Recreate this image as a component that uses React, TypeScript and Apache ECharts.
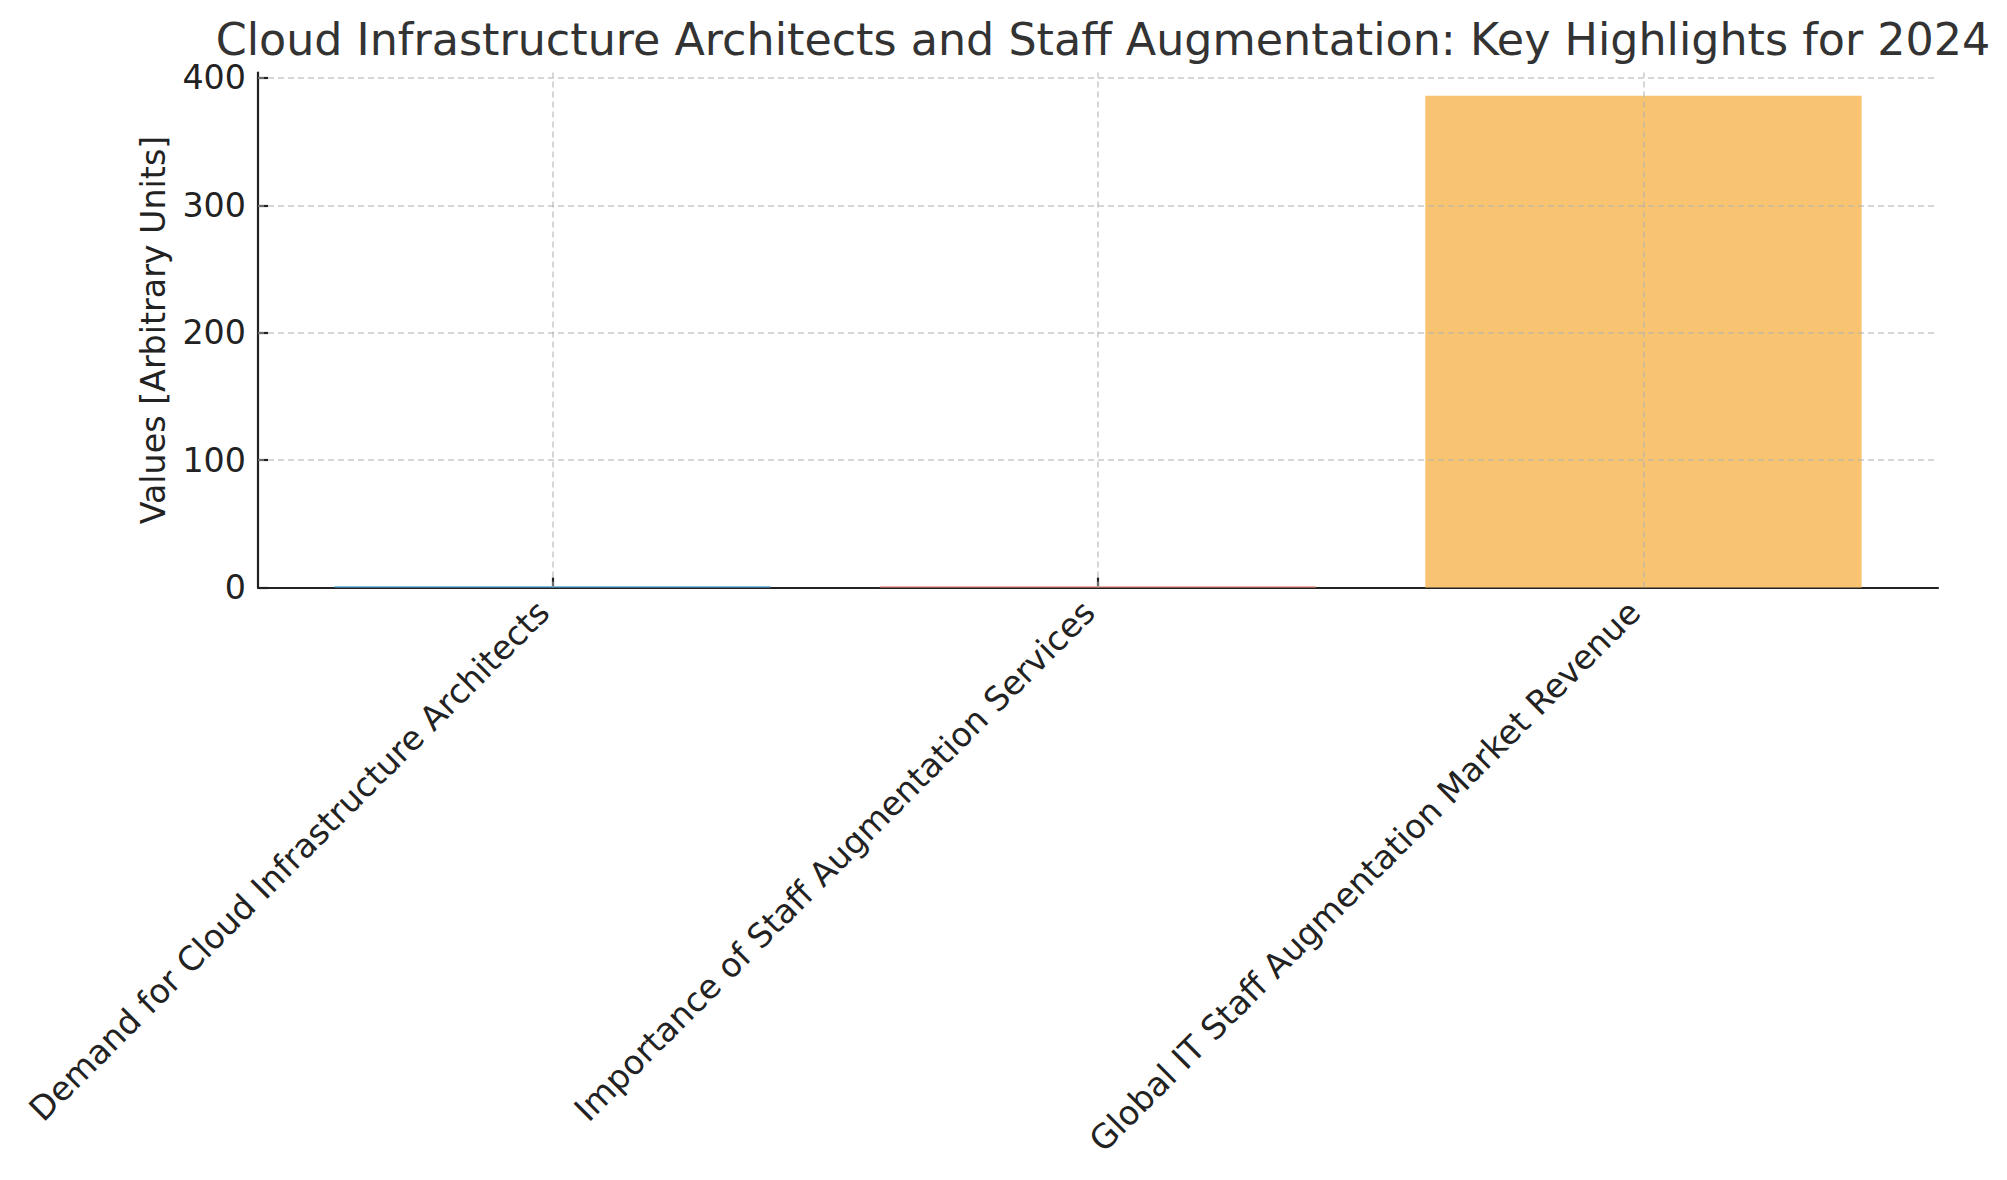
import React, { useEffect, useRef } from "react";
import * as echarts from "echarts";

const categories = [
  "Demand for Cloud Infrastructure Architects",
  "Importance of Staff Augmentation Services",
  "Global IT Staff Augmentation Market Revenue",
];
const values = [1, 1, 386];
const barColors = ["#5DADE2", "#F1948A", "#F8C471"];
const yTicks = [0, 100, 200, 300, 400];
const xTicks = [0, 1, 2];

const W = 2007;
const H = 1180;
const GL = 258;
const GR = 69;
const GT = 72.5;
const GB = 592.5;
const FONT = "DejaVu Sans";
const TICK_FS = 33.3;

export default function App() {
  const ref = useRef<HTMLDivElement>(null);
  useEffect(() => {
    document.body.style.margin = "0";
    const chart = echarts.init(ref.current!, null, { renderer: "svg" });
    const plotW = W - GL - GR;
    const xMin = -0.54;
    const xMax = 2.54;
    const barW = (plotW * 0.8) / (xMax - xMin);
    const gridStyle = { color: "#b0b0b0", opacity: 0.7, width: 1.5, type: [6, 4] as any };
    chart.setOption({
      animation: false,
      backgroundColor: "#ffffff",
      title: {
        text: "Cloud Infrastructure Architects and Staff Augmentation: Key Highlights for 2024",
        left: GL + plotW / 2,
        top: 12,
        textAlign: "center",
        textStyle: { fontFamily: FONT, fontSize: 44.4, fontWeight: "normal", color: "#333333" },
      },
      grid: { left: GL, right: GR, top: GT, bottom: GB, containLabel: false },
      xAxis: {
        type: "value",
        min: xMin,
        max: xMax,
        axisLine: { show: true, onZero: false, lineStyle: { color: "#222222", width: 2.2 } },
        axisTick: { show: true, inside: true, length: 10, customValues: xTicks, lineStyle: { color: "#222222", width: 2.2 } },
        axisLabel: {
          customValues: xTicks,
          rotate: 45,
          margin: 10,
          padding: [0, 13, 0, 0],
          fontFamily: FONT,
          fontSize: TICK_FS,
          color: "#222222",
          formatter: (v: number) => categories[Math.round(v)] ?? "",
        },
        splitLine: { show: false },
      },
      yAxis: {
        type: "value",
        min: 0,
        max: 404.3,
        name: "Values [Arbitrary Units]",
        nameLocation: "middle",
        nameGap: 88,
        nameTextStyle: { fontFamily: FONT, fontSize: TICK_FS, color: "#222222" },
        axisLine: { show: true, onZero: false, lineStyle: { color: "#222222", width: 2.2 } },
        axisTick: { show: true, inside: true, length: 10, customValues: yTicks, lineStyle: { color: "#222222", width: 2.2 } },
        axisLabel: {
          customValues: yTicks,
          margin: 12,
          fontFamily: FONT,
          fontSize: TICK_FS,
          color: "#222222",
        },
        splitLine: { show: false },
      },
      series: [
        {
          type: "bar",
          barWidth: barW,
          data: values.map((v, i) => ({ value: [xTicks[i], v], itemStyle: { color: barColors[i] } })),
          markLine: {
            silent: true,
            symbol: "none",
            z: 10,
            label: { show: false },
            lineStyle: gridStyle,
            data: [
              ...xTicks.map((x) => ({ xAxis: x })),
              ...yTicks.filter((y) => y > 0).map((y) => ({ yAxis: y })),
            ],
          },
        },
      ],
    });
    return () => chart.dispose();
  }, []);
  return <div ref={ref} style={{ width: W, height: H }} />;
}
